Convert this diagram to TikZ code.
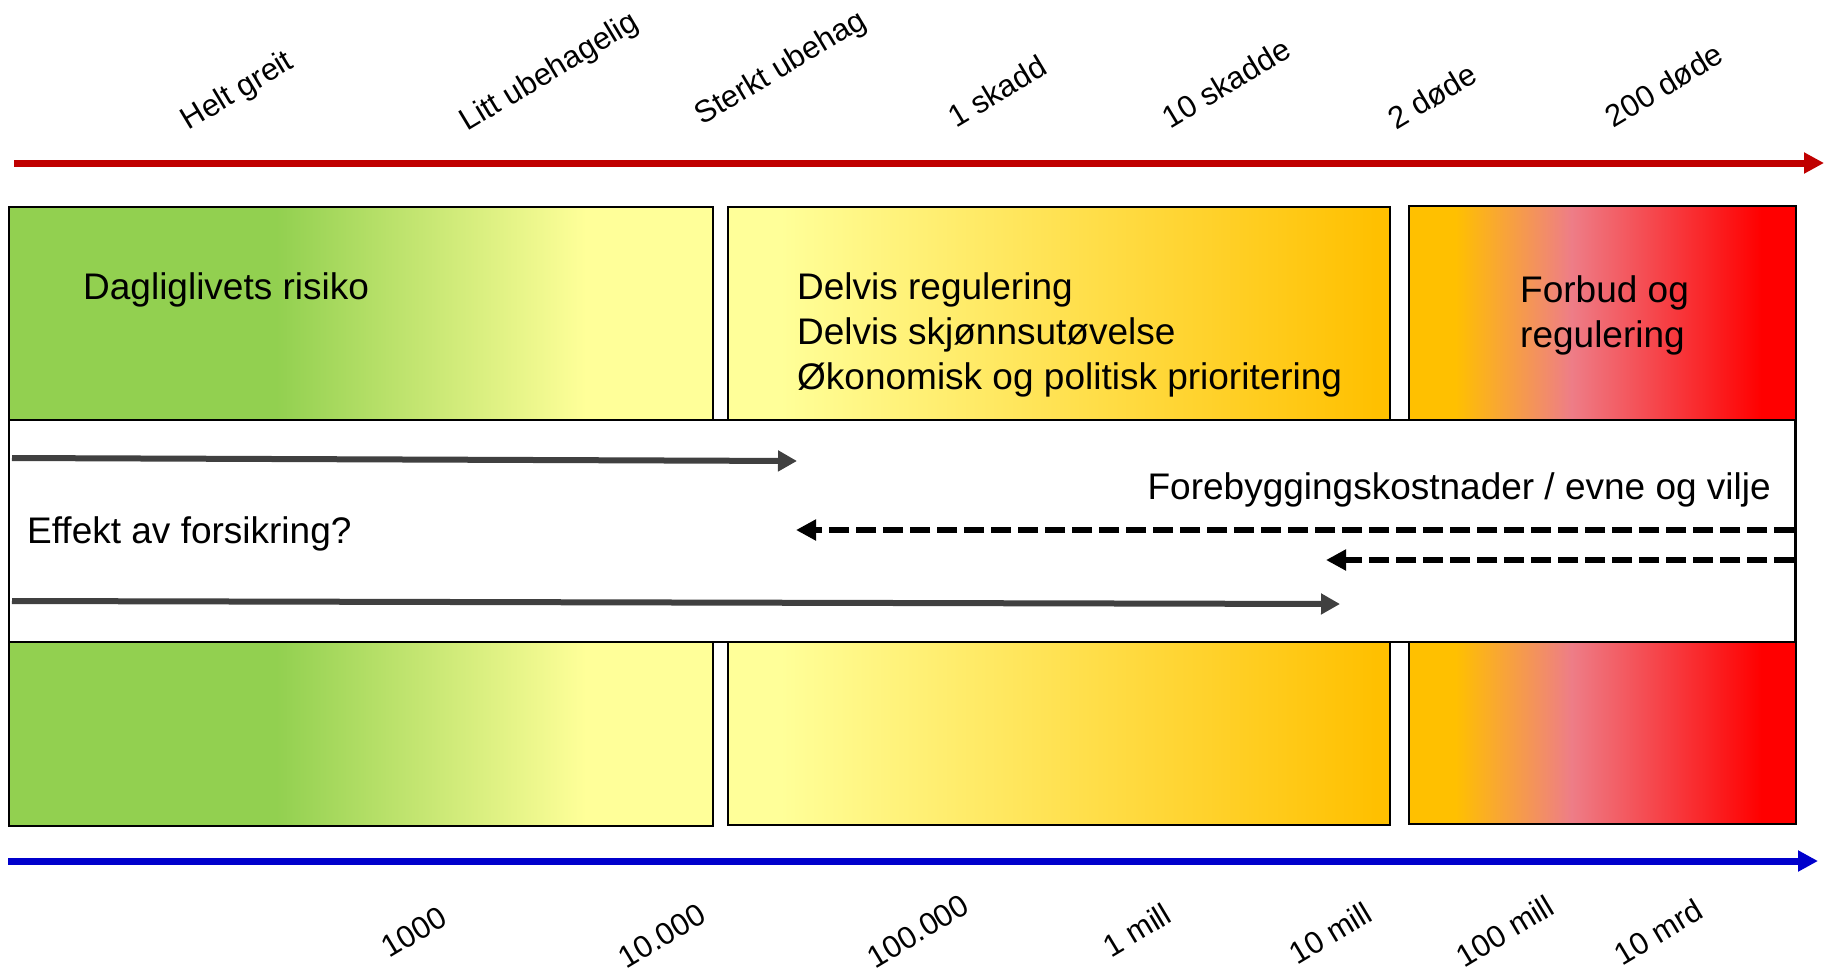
\documentclass[tikz,border=0pt]{standalone}
\usepackage{fontspec}
\setmainfont{Liberation Sans}
\usetikzlibrary{arrows.meta}
\definecolor{cgreen}{RGB}{146,208,80}
\definecolor{cyellow}{RGB}{255,255,153}
\definecolor{corange}{RGB}{255,192,0}
\definecolor{cpink}{RGB}{238,125,135}
\definecolor{cred}{RGB}{255,0,0}
\definecolor{axisred}{RGB}{192,0,0}
\definecolor{axisblue}{RGB}{0,0,204}
\definecolor{arrowgray}{RGB}{64,64,64}
\pgfdeclarehorizontalshading{shgreen}{100bp}{color(0bp)=(cgreen); color(44bp)=(cgreen); color(66bp)=(cyellow); color(100bp)=(cyellow)}
\pgfdeclarehorizontalshading{shyellow}{100bp}{color(0bp)=(cyellow); color(29bp)=(cyellow); color(74bp)=(corange); color(100bp)=(corange)}
\pgfdeclarehorizontalshading{shred}{100bp}{color(0bp)=(corange); color(31bp)=(corange); color(46bp)=(cpink); color(70.5bp)=(cred); color(100bp)=(cred)}
\tikzset{
  zone/.style={draw=black, line width=1.6pt, inner sep=0pt, anchor=north west},
  big/.style={font=\fontsize{37}{44.6}\selectfont, inner sep=0pt},
  lab/.style={font=\fontsize{31}{37}\selectfont, rotate=31, inner sep=0pt},
  axisarrow/.style={line width=7pt, -{Triangle[length=20pt,width=20pt]}},
  grayarrow/.style={draw=arrowgray, line width=6pt, -{Triangle[length=19pt,width=20pt]}},
  dasharrow/.style={draw=black, line width=6pt, dash pattern=on 20pt off 7pt, -{Triangle[length=20pt,width=20pt]}}
}
\begin{document}
\begin{tikzpicture}[x=1pt,y=-1pt]
\useasboundingbox (0,0) rectangle (1827,972);
% axes
\coordinate (r0) at (14,163);
\coordinate (r1) at (1824,163);
\draw[axisarrow, draw=axisred, fill=axisred] (r0) -- (r1);
\coordinate (u0) at (8,861);
\coordinate (u1) at (1818,861);
\draw[axisarrow, draw=axisblue, fill=axisblue] (u0) -- (u1);
% zones
\node[zone, shading=shgreen, minimum width=704pt, minimum height=619pt] (b1) at (8,206) {};
\node[zone, shading=shyellow, minimum width=662pt, minimum height=618pt] (b2) at (727,206) {};
\node[zone, shading=shred, minimum width=387pt, minimum height=618pt] (b3) at (1408,205) {};
% white band
\node[zone, fill=white, line width=2pt, minimum width=1786pt, minimum height=222pt] (band) at (8,419) {};
% zone texts
\node[big, anchor=base west] (dl) at (83,299) {Dagliglivets risiko};
\node[big, anchor=base west] (d1) at (797,299) {Delvis regulering};
\node[big, anchor=base west] (d2) at (797,344) {Delvis skjønnsutøvelse};
\node[big, anchor=base west] (d3) at (797,389) {Økonomisk og politisk prioritering};
\node[big, anchor=base west] (f1) at (1520,302) {Forbud og};
\node[big, anchor=base west] (f2) at (1520,347) {regulering};
% band texts
\node[big, anchor=base east] (fk) at (1771,499) {Forebyggingskostnader / evne og vilje};
\node[big, anchor=base west] (ef) at (27,543) {Effekt av forsikring?};
% band arrows
\coordinate (g1s) at (12,458);
\coordinate (g1e) at (797,461);
\draw[grayarrow, fill=arrowgray] (g1s) -- (g1e);
\coordinate (g2s) at (12,601);
\coordinate (g2e) at (1340,604);
\draw[grayarrow, fill=arrowgray] (g2s) -- (g2e);
\coordinate (k1s) at (1794,530);
\coordinate (k1e) at (796,530);
\draw[dasharrow] (k1s) -- (k1e);
\coordinate (k2s) at (1794,560);
\coordinate (k2e) at (1326,560);
\draw[dasharrow] (k2s) -- (k2e);
% top labels
\node[lab] (t1) at (238,92) {Helt greit};
\node[lab] (t2) at (550,73) {Litt ubehagelig};
\node[lab] (t3) at (781,69) {Sterkt ubehag};
\node[lab] (t4) at (997,91) {1 skadd};
\node[lab] (t5) at (1226,83) {10 skadde};
\node[lab] (t6) at (1432,96) {2 døde};
\node[lab] (t7) at (1664,85) {200 døde};
% bottom labels
\node[lab] (v1) at (414,932) {1000};
\node[lab] (v2) at (662,936) {10.000};
\node[lab] (v3) at (918,931) {100.000};
\node[lab] (v4) at (1137,930) {1 mill};
\node[lab] (v5) at (1330,933) {10 mill};
\node[lab] (v6) at (1505,931) {100 mill};
\node[lab] (v7) at (1658,932) {10 mrd};
\end{tikzpicture}
\end{document}
